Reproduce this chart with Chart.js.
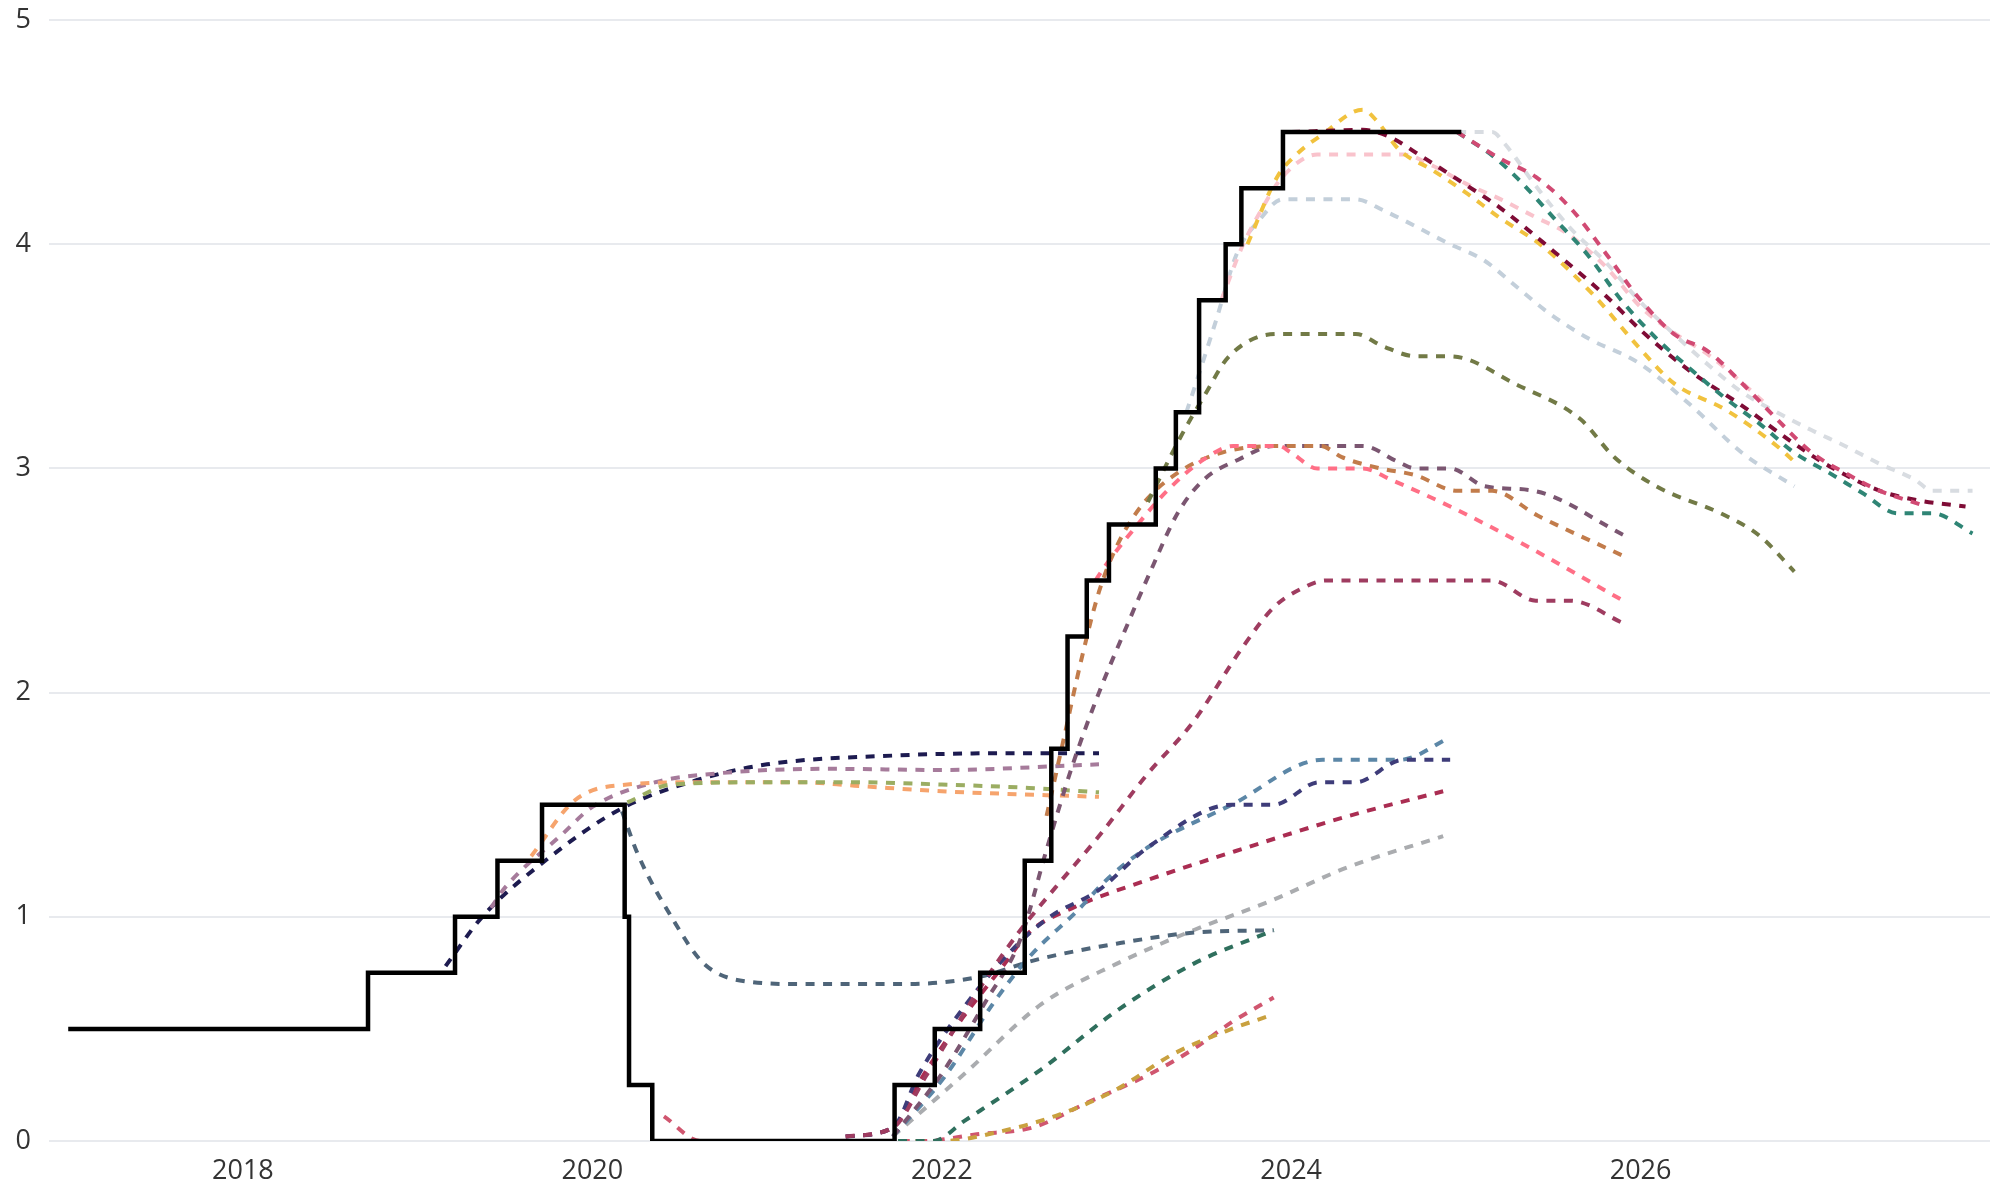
<!DOCTYPE html>
<html>
<head>
<meta charset="utf-8">
<script src="https://cdn.jsdelivr.net/npm/chart.js@4.4.1/dist/chart.umd.min.js"></script>
<style>
  html, body { margin: 0; padding: 0; background: #fff; }
  #wrap { width: 1990px; height: 1184px; position: relative; }
</style>
</head>
<body>
<div id="wrap"><canvas id="rateChart"></canvas></div>
<script>
// policy rate (step changes) and market-implied paths, [year, %]
const bankRate = [[2017.0,0.5],[2018.716,0.75],[2019.214,1.0],[2019.457,1.25],[2019.712,1.5],[2020.185,1.0],[2020.21,0.25],[2020.343,0],
  [2021.73,0.25],[2021.96,0.5],[2022.22,0.75],[2022.475,1.25],[2022.627,1.75],[2022.72,2.25],[2022.83,2.5],[2022.957,2.75],
  [2023.225,3.0],[2023.34,3.25],[2023.473,3.75],[2023.625,4.0],[2023.715,4.25],[2023.953,4.5],[2024.974,4.5]];

const fcNavy = [[2019.16,0.78],[2019.37,1.0],[2019.73,1.25],[2020.16,1.48],[2020.6,1.61],[2021.0,1.68],[2021.75,1.72],[2022.5,1.73],[2022.9,1.73]];
const fcMauve = [[2019.42,1.04],[2019.5,1.13],[2019.83,1.37],[2020.0,1.49],[2020.36,1.6],[2020.72,1.64],[2021.36,1.66],[2022.0,1.655],[2022.9,1.68]];
const fcOrange = [[2019.65,1.27],[2019.9,1.52],[2020.2,1.59],[2020.6,1.6],[2021.2,1.6],[2021.5,1.585],[2022.0,1.56],[2022.9,1.535]];
const fcGreen = [[2020.2,1.51],[2020.45,1.59],[2021.0,1.6],[2021.5,1.6],[2022.0,1.59],[2022.5,1.575],[2022.9,1.555]];
const fcSlate = [[2020.17,1.47],[2020.26,1.28],[2020.46,0.99],[2020.64,0.79],[2020.9,0.71],[2021.2,0.7],[2021.8,0.7],[2022.2,0.73],[2022.55,0.81],[2023.0,0.88],[2023.45,0.93],[2023.9,0.94]];
const fcRed = [[2020.41,0.11],[2020.62,0.0],[2021.9,0.0],[2022.2,0.03],[2022.52,0.06],[2022.83,0.17],[2023.22,0.31],[2023.44,0.41],[2023.66,0.53],[2023.9,0.64]];
const fcGold = [[2021.75,0.0],[2022.0,0.0],[2022.35,0.045],[2022.68,0.12],[2023.0,0.23],[2023.33,0.39],[2023.66,0.5],[2023.9,0.565]];
const fcTeal = [[2021.75,0.0],[2021.95,0.0],[2022.13,0.09],[2022.57,0.32],[2023.0,0.58],[2023.44,0.79],[2023.9,0.94]];
const fcGrey = [[2021.72,0.02],[2022.13,0.3],[2022.57,0.61],[2023.0,0.79],[2023.44,0.94],[2023.88,1.07],[2024.32,1.22],[2024.87,1.36]];
const fcCrimson = [[2021.45,0.02],[2021.72,0.06],[2021.9,0.3],[2022.12,0.55],[2022.35,0.78],[2022.5,0.93],[2022.75,1.04],[2023.2,1.17],[2023.75,1.31],[2024.33,1.45],[2024.87,1.56]];
const fcSteel = [[2021.72,0.02],[2022.02,0.29],[2022.3,0.62],[2022.5,0.82],[2022.78,1.03],[2022.95,1.17],[2023.18,1.31],[2023.66,1.5],[2024.18,1.7],[2024.62,1.7],[2024.91,1.8]];
const fcIndigo = [[2021.45,0.02],[2021.72,0.06],[2021.87,0.3],[2022.13,0.6],[2022.4,0.85],[2022.62,1.0],[2022.9,1.12],[2023.18,1.31],[2023.66,1.5],[2023.9,1.5],[2024.16,1.6],[2024.37,1.6],[2024.64,1.7],[2024.91,1.7]];
const fcRaspberry = [[2021.45,0.02],[2021.72,0.06],[2021.91,0.29],[2022.2,0.66],[2022.44,0.93],[2022.65,1.13],[2022.9,1.36],[2023.17,1.63],[2023.44,1.87],[2023.72,2.2],[2023.9,2.38],[2024.05,2.46],[2024.2,2.5],[2025.15,2.5],[2025.4,2.41],[2025.6,2.41],[2025.9,2.31]];
const fcDusky = [[2021.72,0.02],[2022.0,0.3],[2022.25,0.62],[2022.45,0.9],[2022.6,1.3],[2022.75,1.68],[2022.9,2.0],[2023.05,2.28],[2023.2,2.55],[2023.35,2.8],[2023.5,2.95],[2023.7,3.04],[2023.9,3.1],[2024.41,3.1],[2024.61,3.03],[2024.71,3.0],[2024.91,3.0],[2025.11,2.92],[2025.39,2.9],[2025.91,2.7]];
const fcBrown = [[2022.6,1.45],[2022.7,1.8],[2022.8,2.15],[2022.9,2.45],[2023.0,2.65],[2023.15,2.84],[2023.35,2.98],[2023.6,3.07],[2023.93,3.1],[2024.17,3.1],[2024.29,3.05],[2024.51,3.0],[2024.71,2.97],[2024.95,2.9],[2025.15,2.9],[2025.41,2.79],[2025.9,2.61]];
const fcSalmon = [[2022.88,2.5],[2022.94,2.57],[2023.09,2.72],[2023.29,2.9],[2023.5,3.04],[2023.67,3.1],[2023.93,3.1],[2024.0,3.07],[2024.15,3.0],[2024.41,3.0],[2024.57,2.95],[2024.91,2.83],[2025.31,2.67],[2025.9,2.41]];
const fcOlive = [[2023.18,2.85],[2023.36,3.13],[2023.5,3.32],[2023.645,3.5],[2023.92,3.6],[2024.37,3.6],[2024.525,3.545],[2024.715,3.5],[2024.91,3.5],[2025.3,3.37],[2025.655,3.22],[2025.85,3.05],[2026.09,2.92],[2026.485,2.79],[2026.68,2.7],[2026.88,2.54]];
const fcLightSteel = [[2023.4,3.25],[2023.48,3.44],[2023.57,3.66],[2023.69,3.96],[2023.82,4.11],[2023.95,4.2],[2024.37,4.2],[2024.53,4.15],[2024.91,4.0],[2025.1,3.93],[2025.29,3.81],[2025.48,3.69],[2025.7,3.58],[2025.99,3.47],[2026.29,3.28],[2026.58,3.07],[2026.88,2.92]];
const fcLightPink = [[2023.6,3.75],[2023.72,3.99],[2023.82,4.14],[2023.95,4.3],[2024.15,4.4],[2024.64,4.4],[2024.81,4.35],[2025.0,4.27],[2025.2,4.2],[2025.4,4.12],[2025.575,4.05],[2025.8,3.9],[2026.0,3.72],[2026.2,3.6],[2026.4,3.5],[2026.7,3.3]];
const fcYellow = [[2023.75,4.0],[2023.92,4.3],[2024.03,4.4],[2024.18,4.49],[2024.41,4.6],[2024.49,4.55],[2024.62,4.42],[2024.81,4.33],[2025.0,4.23],[2025.19,4.12],[2025.44,3.99],[2025.735,3.77],[2025.99,3.54],[2026.19,3.38],[2026.49,3.26],[2026.78,3.1],[2026.88,3.03]];
const fcMaroon = [[2024.0,4.5],[2024.41,4.51],[2024.56,4.48],[2024.75,4.39],[2024.95,4.29],[2025.2,4.16],[2025.5,3.97],[2025.8,3.77],[2026.01,3.61],[2026.29,3.43],[2026.58,3.28],[2026.88,3.11],[2027.08,3.01],[2027.37,2.9],[2027.57,2.86],[2027.86,2.83]];
const fcTeal2 = [[2024.95,4.5],[2025.16,4.39],[2025.3,4.29],[2025.5,4.12],[2025.7,3.95],[2025.89,3.75],[2026.09,3.58],[2026.29,3.44],[2026.49,3.31],[2026.68,3.2],[2026.88,3.07],[2027.08,2.98],[2027.27,2.89],[2027.47,2.8],[2027.67,2.8],[2027.9,2.71]];
const fcRaspPink = [[2024.95,4.5],[2025.2,4.38],[2025.4,4.3],[2025.6,4.16],[2025.8,3.96],[2025.99,3.76],[2026.19,3.6],[2026.39,3.52],[2026.58,3.38],[2026.78,3.22],[2026.98,3.07],[2027.17,2.98],[2027.37,2.9],[2027.6,2.84]];
const fcPale = [[2024.95,4.5],[2025.15,4.5],[2025.22,4.45],[2025.4,4.26],[2025.6,4.07],[2025.8,3.92],[2025.99,3.75],[2026.19,3.6],[2026.39,3.46],[2026.58,3.34],[2026.78,3.25],[2026.98,3.17],[2027.17,3.1],[2027.37,3.02],[2027.57,2.95],[2027.67,2.9],[2027.9,2.9]];

const xTicks = [2018, 2020, 2022, 2024, 2026];
const yTicks = [0, 1, 2, 3, 4, 5];

// forecast curves with their colours, drawn under the policy rate
const forecasts = [
    [fcPale, '#d8dce1'], [fcLightSteel, '#c3cfda'], [fcLightPink, '#f9c3cc'], [fcGrey, '#aaacaf'],
    [fcNavy, '#1d1b50'], [fcMauve, '#a67b9b'], [fcOrange, '#f6a46d'], [fcGreen, '#9bad62'],
    [fcSlate, '#4f6579'], [fcRed, '#d0566f'], [fcGold, '#c9a13f'], [fcTeal, '#2f6f5d'],
    [fcCrimson, '#aa2d52'], [fcSteel, '#5c87a7'], [fcIndigo, '#3e3c79'], [fcRaspberry, '#9f3c60'],
    [fcDusky, '#7b5671'], [fcBrown, '#c27c4b'], [fcSalmon, '#ff6f86'], [fcOlive, '#727a46'],
    [fcYellow, '#f1c23e'], [fcMaroon, '#7f0c36'], [fcTeal2, '#2f8575'], [fcRaspPink, '#d14a73']
];

function toPoints(arr) {
    return arr.map(p => ({ x: p[0], y: p[1] }));
}

const datasets = [{
    data: toPoints(bankRate),
    borderColor: '#000000',
    borderWidth: 4.5,
    stepped: true,
    pointRadius: 0
}];

forecasts.slice().reverse().forEach(f => {
    datasets.push({
        data: toPoints(f[0]),
        borderColor: f[1],
        borderWidth: 4,
        borderDash: [9, 8.5],
        cubicInterpolationMode: 'monotone',
        pointRadius: 0
    });
});

new Chart(document.getElementById('rateChart'), {
    type: 'line',
    data: { datasets: datasets },
    options: {
        responsive: true,
        maintainAspectRatio: false,
        animation: false,
        layout: { padding: { top: 20, right: 0, bottom: 0, left: 0 } },
        plugins: { legend: { display: false }, tooltip: { enabled: false } },
        scales: {
            x: {
                type: 'linear',
                min: 2016.89,
                max: 2028.0,
                grid: { display: false },
                border: { display: false },
                afterBuildTicks: axis => { axis.ticks = xTicks.map(v => ({ value: v })); },
                afterFit: axis => { axis.height = 43; },
                ticks: {
                    padding: 6,
                    color: '#333',
                    font: { family: 'Open Sans', size: 27 },
                    callback: v => String(v)
                }
            },
            y: {
                min: 0,
                max: 5,
                grid: { color: '#e8eaee', lineWidth: 2, drawTicks: false },
                border: { display: false },
                afterBuildTicks: axis => { axis.ticks = yTicks.map(v => ({ value: v })); },
                afterFit: axis => {
                    axis.width = 49;
                    axis.paddingTop = 0;
                    axis.paddingBottom = 0;
                },
                ticks: {
                    padding: 18,
                    color: '#333',
                    font: { family: 'Open Sans', size: 27 }
                }
            }
        }
    }
});
</script>
</body>
</html>
